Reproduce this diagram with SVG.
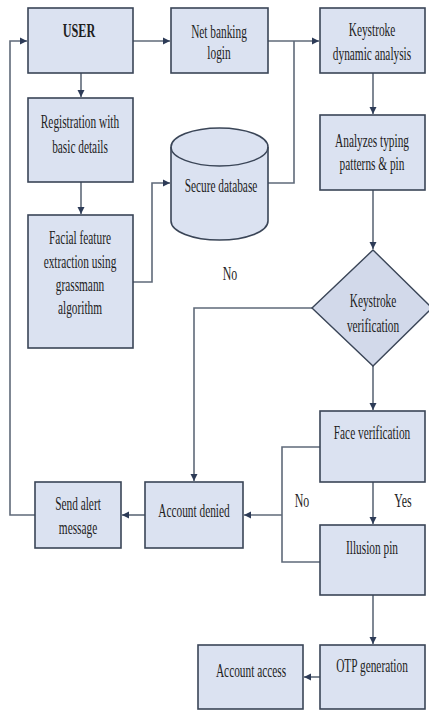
<svg xmlns="http://www.w3.org/2000/svg" width="429" height="711" viewBox="0 0 429 711">
<style>
.box{fill:#dbe2f1;stroke:#3a4557;stroke-width:1.6}
.dia{fill:#d2d9ea;stroke:#3a4557;stroke-width:1.4}
.ln{fill:none;stroke:#5f6a79;stroke-width:1.6}
.t{font-family:"Liberation Serif","Times New Roman",serif;font-size:18px;fill:#1e1e1e;text-anchor:middle}
.b{font-weight:bold}
</style>
<defs>
<marker id="ah" markerWidth="8" markerHeight="8" refX="7" refY="4" orient="auto" markerUnits="userSpaceOnUse">
<path d="M0,0.5 L7,4 L0,7.5 Z" fill="#2d3b57"/>
</marker>
</defs>
<rect width="429" height="711" fill="#ffffff"/>

<g id="connectors">
<line class="ln" x1="133" y1="41" x2="170" y2="41" marker-end="url(#ah)"/>
<line class="ln" x1="268" y1="41" x2="319" y2="41" marker-end="url(#ah)"/>
<line class="ln" x1="81" y1="73" x2="81" y2="97" marker-end="url(#ah)"/>
<line class="ln" x1="81" y1="182" x2="81" y2="214" marker-end="url(#ah)"/>
<polyline class="ln" points="133,282 152,282 152,183 170,183" marker-end="url(#ah)"/>
<polyline class="ln" points="268,183 294,183 294,41"/>
<line class="ln" x1="373" y1="73" x2="373" y2="114" marker-end="url(#ah)"/>
<line class="ln" x1="373" y1="190" x2="373" y2="249" marker-end="url(#ah)"/>
<polyline class="ln" points="312,308 194,308 194,481" marker-end="url(#ah)"/>
<line class="ln" x1="373" y1="366" x2="373" y2="410" marker-end="url(#ah)"/>
<polyline class="ln" points="320,447 282,447 282,562 320,562"/>
<line class="ln" x1="282" y1="515" x2="244" y2="515" marker-end="url(#ah)"/>
<line class="ln" x1="145" y1="515" x2="122" y2="515" marker-end="url(#ah)"/>
<polyline class="ln" points="35,515 10,515 10,41 27,41" marker-end="url(#ah)"/>
<line class="ln" x1="373" y1="482" x2="373" y2="524" marker-end="url(#ah)"/>
<line class="ln" x1="373" y1="595" x2="373" y2="644" marker-end="url(#ah)"/>
<line class="ln" x1="320" y1="677" x2="304" y2="677" marker-end="url(#ah)"/>
<text class="t" x="0" y="0" transform="translate(230,280) scale(0.66 1)">No</text>
<text class="t" x="0" y="0" transform="translate(302,507) scale(0.66 1)">No</text>
<text class="t" x="0" y="0" transform="translate(403,507) scale(0.66 1)">Yes</text>
</g>

<g id="user">
<rect class="box" x="28" y="8" width="105" height="65"/>
<text class="t b" x="0" y="0" transform="translate(79,37) scale(0.68 1)">USER</text>
</g>
<g id="netbanking">
<rect class="box" x="171" y="8" width="97" height="65"/>
<text class="t" transform="translate(219,38) scale(0.63 1)">Net banking</text>
<text class="t" transform="translate(219,59) scale(0.63 1)">login</text>
</g>
<g id="keystroke-analysis">
<rect class="box" x="320" y="8" width="105" height="65"/>
<text class="t" transform="translate(372,36) scale(0.63 1)">Keystroke</text>
<text class="t" transform="translate(372,60) scale(0.63 1)">dynamic analysis</text>
</g>
<g id="registration">
<rect class="box" x="28" y="98" width="105" height="84"/>
<text class="t" transform="translate(80,128) scale(0.63 1)">Registration with</text>
<text class="t" transform="translate(80,153) scale(0.63 1)">basic details</text>
</g>
<g id="facial">
<rect class="box" x="28" y="215" width="105" height="133"/>
<text class="t" transform="translate(80,244) scale(0.63 1)">Facial feature</text>
<text class="t" transform="translate(80,268) scale(0.63 1)">extraction using</text>
<text class="t" transform="translate(80,291) scale(0.63 1)">grassmann</text>
<text class="t" transform="translate(80,314) scale(0.63 1)">algorithm</text>
</g>
<g id="database">
<path class="box" d="M171,147 A48.5,19 0 0 1 268,147 L268,221 A48.5,19 0 0 1 171,221 Z"/>
<path class="ln" style="stroke:#3a4557;stroke-width:1.4" d="M171,147 A48.5,19 0 0 0 268,147"/>
<text class="t" transform="translate(221,192) scale(0.63 1)">Secure database</text>
</g>
<g id="analyzes">
<rect class="box" x="320" y="115" width="105" height="75"/>
<text class="t" transform="translate(372,147) scale(0.63 1)">Analyzes typing</text>
<text class="t" transform="translate(372,170) scale(0.63 1)">patterns &amp; pin</text>
</g>
<g id="keystroke-verification">
<polygon class="dia" points="373,250 432,308 373,366 312,308"/>
<text class="t" transform="translate(373,307) scale(0.63 1)">Keystroke</text>
<text class="t" transform="translate(373,332) scale(0.63 1)">verification</text>
</g>
<g id="face-verification">
<rect class="box" x="320" y="411" width="105" height="71"/>
<text class="t" transform="translate(372,439) scale(0.63 1)">Face verification</text>
</g>
<g id="account-denied">
<rect class="box" x="145" y="482" width="98" height="66"/>
<text class="t" transform="translate(194,517) scale(0.63 1)">Account denied</text>
</g>
<g id="send-alert">
<rect class="box" x="35" y="482" width="86" height="66"/>
<text class="t" transform="translate(78,510) scale(0.63 1)">Send alert</text>
<text class="t" transform="translate(78,534) scale(0.63 1)">message</text>
</g>
<g id="illusion-pin">
<rect class="box" x="320" y="525" width="105" height="70"/>
<text class="t" transform="translate(372,554) scale(0.63 1)">Illusion pin</text>
</g>
<g id="otp">
<rect class="box" x="320" y="645" width="105" height="64"/>
<text class="t" transform="translate(372,672) scale(0.63 1)">OTP generation</text>
</g>
<g id="account-access">
<rect class="box" x="198" y="645" width="105" height="64"/>
<text class="t" transform="translate(251,677) scale(0.63 1)">Account access</text>
</g>
</svg>
